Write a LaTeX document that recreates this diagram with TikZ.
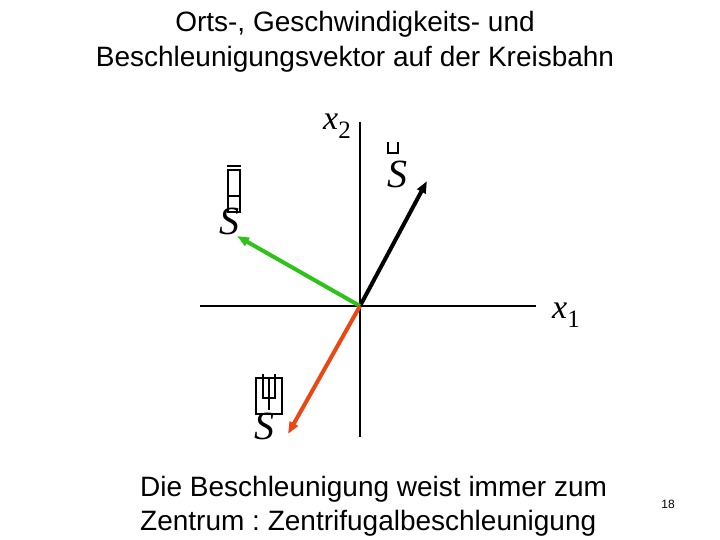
\documentclass[tikz,border=0pt]{standalone}
\usepackage{fontspec}
\setmainfont{Liberation Serif}
\newfontfamily\arialfont{Liberation Sans}
\usetikzlibrary{arrows.meta}
\definecolor{vgreen}{RGB}{45,195,25}
\definecolor{vred}{RGB}{235,70,20}
\frenchspacing
\tikzset{
  vec/.style={line width=4pt, -{Triangle[length=12pt,width=9pt]}},
  axis/.style={line width=1.2pt},
  sans/.style={font=\arialfont\fontsize{28}{32}\selectfont, inner sep=0pt},
  sym/.style={font=\fontsize{34}{40}\selectfont\itshape, inner sep=0pt, anchor=base west},
  bigS/.style={sym, font=\fontsize{40}{44}\selectfont\itshape},
  glyph/.style={line width=1.4pt}
}
\begin{document}
\begin{tikzpicture}[x=1pt,y=-1pt]
\useasboundingbox (0,0) rectangle (720,540);
% title
\node[sans, anchor=base] (t1) at (355,32) {Orts-, Geschwindigkeits- und};
\node[sans, anchor=base] (t2) at (355,67) {Beschleunigungsvektor auf der Kreisbahn};
% axes
\coordinate (O) at (360,306);
\coordinate (xl) at (200,306);
\coordinate (xr) at (536,306);
\coordinate (yt) at (360,122);
\coordinate (yb) at (360,437);
\draw[axis] (xl) -- (xr);
\draw[axis] (yt) -- (yb);
\node[sym] (x2) at (323,130) {x\raisebox{-9pt}{\upshape\fontsize{25}{28}\selectfont 2}};
\node[sym] (x1) at (552,318) {x\raisebox{-9pt}{\upshape\fontsize{25}{28}\selectfont 1}};
% vectors
\coordinate (sTip) at (427,181);
\coordinate (vTip) at (237,236);
\coordinate (aTip) at (288,434);
\draw[vec, black] (O) -- (sTip);
\draw[vec, vgreen] (O) -- (vTip);
\draw[vec, vred] (O) -- (aTip);
% labels (S with missing-glyph boxes)
\node[bigS] (sLbl) at (387,188) {S};
\draw[glyph] (388,142) -- (388,153) -- (398,153) -- (398,142);
\node[bigS] (vLbl) at (219,234) {S};
\draw[glyph, line width=2.4pt] (228,170) rectangle (240,196);
\draw[glyph] (228,196) rectangle (240,212);
\draw[glyph] (227,166) -- (241,166);
\node[bigS] (aLbl) at (254,439) {S};
\draw[glyph, line width=1.8pt] (256,378) rectangle (282,414);
\draw[glyph, line width=2.2pt] (263,374) -- (263,398) -- (275,398) -- (275,374);
\draw[glyph, line width=2.5pt] (269,378) -- (269,410);
% bottom text
\node[sans, anchor=base west] (b1) at (140,496) {Die Beschleunigung weist immer zum};
\node[sans, anchor=base west] (b2) at (140,530) {Zentrum : Zentrifugalbeschleunigung};
\node[font=\arialfont\fontsize{12}{14}\selectfont, inner sep=0pt] (pg) at (668,504) {18};
\end{tikzpicture}
\end{document}
